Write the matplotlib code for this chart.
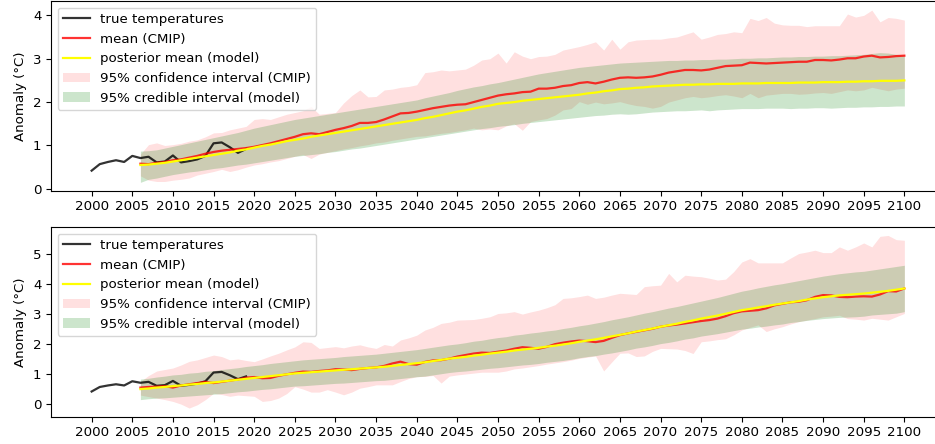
import numpy as np
import matplotlib
matplotlib.use("Agg")
import matplotlib.pyplot as plt

plt.rcParams.update({
    "font.family": "DejaVu Sans",
    "font.size": 9.6,
    "lines.linewidth": 1.6,
})

# Observed anomalies (°C)
obs_years = list(range(2000, 2020))
obs_temp = [0.42, 0.57, 0.62, 0.66, 0.62, 0.76, 0.71, 0.74, 0.61, 0.63,
            0.77, 0.61, 0.64, 0.68, 0.76, 1.05, 1.07, 0.96, 0.83, 0.92]

proj_years = list(range(2006, 2101))

# Scenario A
cmip_mean_a = [0.58, 0.57, 0.60, 0.62, 0.66, 0.68, 0.72, 0.76, 0.81, 0.85,
               0.88, 0.90, 0.92, 0.94, 0.97, 1.01, 1.05, 1.10, 1.15, 1.20,
               1.26, 1.28, 1.26, 1.31, 1.36, 1.40, 1.45, 1.52, 1.52, 1.54,
               1.60, 1.67, 1.74, 1.75, 1.78, 1.82, 1.86, 1.89, 1.92, 1.94,
               1.95, 2.00, 2.05, 2.10, 2.15, 2.18, 2.20, 2.23, 2.24, 2.31,
               2.31, 2.33, 2.37, 2.39, 2.44, 2.46, 2.43, 2.47, 2.52, 2.56,
               2.57, 2.56, 2.57, 2.59, 2.63, 2.68, 2.71, 2.74, 2.74, 2.73,
               2.75, 2.79, 2.83, 2.84, 2.85, 2.91, 2.90, 2.89, 2.90, 2.91,
               2.92, 2.93, 2.93, 2.97, 2.97, 2.96, 2.98, 3.01, 3.01, 3.05,
               3.07, 3.03, 3.04, 3.06, 3.07]
cmip_hi_a = [0.80, 1.02, 1.06, 1.00, 1.02, 1.05, 1.10, 1.13, 1.20, 1.29,
             1.30, 1.36, 1.40, 1.44, 1.60, 1.62, 1.60, 1.66, 1.72, 1.76,
             1.80, 1.90, 1.72, 1.74, 1.76, 1.98, 2.15, 2.28, 2.12, 2.13,
             2.28, 2.30, 2.34, 2.36, 2.40, 2.68, 2.70, 2.74, 2.72, 2.74,
             2.76, 2.85, 2.97, 3.00, 3.13, 2.90, 3.16, 3.06, 3.00, 3.05,
             3.06, 3.10, 3.20, 3.24, 3.28, 3.33, 3.39, 3.20, 3.45, 3.22,
             3.39, 3.43, 3.44, 3.45, 3.45, 3.48, 3.50, 3.56, 3.62, 3.45,
             3.50, 3.56, 3.58, 3.62, 3.60, 3.93, 3.88, 3.95, 3.82, 3.78,
             3.77, 3.77, 3.74, 3.76, 3.76, 3.76, 3.76, 4.03, 3.96, 4.00,
             4.12, 3.85, 3.95, 3.93, 3.89]
cmip_lo_a = [0.30, 0.20, 0.17, 0.17, 0.20, 0.22, 0.25, 0.32, 0.36, 0.40,
             0.45, 0.40, 0.44, 0.50, 0.55, 0.58, 0.62, 0.65, 0.70, 0.75,
             0.79, 0.70, 0.80, 0.84, 0.88, 0.92, 0.95, 0.99, 1.02, 1.06,
             1.08, 1.12, 1.15, 1.18, 1.21, 1.22, 1.25, 1.28, 1.30, 1.33,
             1.36, 1.40, 1.36, 1.38, 1.36, 1.45, 1.50, 1.35, 1.55, 1.59,
             1.62, 1.70, 1.82, 1.85, 2.01, 1.95, 2.00, 1.96, 1.98, 2.01,
             1.96, 1.92, 1.90, 1.86, 1.90, 2.00, 2.05, 2.10, 2.13, 2.10,
             2.12, 2.15, 2.17, 2.14, 2.10, 2.20, 2.10, 2.16, 2.18, 2.20,
             2.20, 2.18, 2.19, 2.21, 2.22, 2.20, 2.24, 2.28, 2.26, 2.28,
             2.34, 2.30, 2.26, 2.30, 2.32]
post_mean_a = [0.55, 0.56, 0.58, 0.60, 0.63, 0.66, 0.69, 0.72, 0.75, 0.78,
               0.81, 0.84, 0.88, 0.91, 0.95, 0.99, 1.02, 1.06, 1.10, 1.13,
               1.16, 1.20, 1.23, 1.26, 1.29, 1.32, 1.35, 1.38, 1.41, 1.44,
               1.47, 1.50, 1.53, 1.56, 1.59, 1.63, 1.66, 1.70, 1.74, 1.78,
               1.81, 1.85, 1.89, 1.92, 1.96, 1.98, 2.00, 2.03, 2.05, 2.07,
               2.09, 2.11, 2.13, 2.15, 2.17, 2.20, 2.22, 2.25, 2.27, 2.30,
               2.31, 2.33, 2.34, 2.36, 2.37, 2.38, 2.39, 2.40, 2.40, 2.41,
               2.41, 2.42, 2.42, 2.42, 2.43, 2.43, 2.43, 2.44, 2.44, 2.44,
               2.44, 2.45, 2.45, 2.45, 2.46, 2.46, 2.46, 2.47, 2.47, 2.48,
               2.48, 2.49, 2.49, 2.49, 2.50]
cred_hi_a = [0.87, 0.88, 0.90, 0.94, 0.98, 1.02, 1.06, 1.10, 1.14, 1.18,
             1.22, 1.26, 1.30, 1.35, 1.40, 1.44, 1.48, 1.52, 1.56, 1.60,
             1.63, 1.66, 1.69, 1.72, 1.75, 1.78, 1.81, 1.84, 1.87, 1.90,
             1.93, 1.96, 1.99, 2.02, 2.05, 2.10, 2.14, 2.18, 2.22, 2.27,
             2.31, 2.35, 2.38, 2.42, 2.45, 2.49, 2.53, 2.57, 2.61, 2.65,
             2.68, 2.71, 2.74, 2.77, 2.80, 2.82, 2.84, 2.86, 2.88, 2.90,
             2.91, 2.92, 2.93, 2.94, 2.95, 2.96, 2.96, 2.97, 2.97, 2.98,
             2.98, 2.99, 2.99, 3.00, 3.01, 3.01, 3.02, 3.02, 3.03, 3.04,
             3.04, 3.05, 3.05, 3.06, 3.06, 3.07, 3.07, 3.08, 3.09, 3.10,
             3.12, 3.14, 3.13, 3.10, 3.09]
cred_lo_a = [0.15, 0.22, 0.25, 0.29, 0.33, 0.36, 0.39, 0.41, 0.44, 0.47,
             0.49, 0.52, 0.55, 0.57, 0.60, 0.63, 0.66, 0.69, 0.72, 0.75,
             0.77, 0.79, 0.81, 0.84, 0.86, 0.89, 0.92, 0.94, 0.97, 1.00,
             1.03, 1.06, 1.09, 1.12, 1.15, 1.18, 1.21, 1.24, 1.27, 1.30,
             1.33, 1.36, 1.39, 1.41, 1.44, 1.46, 1.48, 1.51, 1.53, 1.55,
             1.57, 1.59, 1.61, 1.63, 1.65, 1.67, 1.69, 1.70, 1.72, 1.73,
             1.72, 1.73, 1.75, 1.77, 1.78, 1.79, 1.80, 1.80, 1.81, 1.82,
             1.80, 1.82, 1.83, 1.84, 1.85, 1.85, 1.85, 1.86, 1.86, 1.86,
             1.85, 1.86, 1.86, 1.87, 1.87, 1.86, 1.87, 1.88, 1.88, 1.89,
             1.89, 1.90, 1.90, 1.91, 1.91]

# Scenario B
cmip_mean_b = [0.55, 0.57, 0.58, 0.60, 0.55, 0.62, 0.66, 0.70, 0.74, 0.70,
               0.74, 0.78, 0.82, 0.88, 0.90, 0.86, 0.87, 0.94, 0.99, 1.04,
               1.08, 1.07, 1.10, 1.12, 1.16, 1.15, 1.13, 1.17, 1.20, 1.22,
               1.27, 1.35, 1.41, 1.33, 1.31, 1.40, 1.45, 1.46, 1.51, 1.58,
               1.63, 1.68, 1.71, 1.70, 1.74, 1.78, 1.84, 1.89, 1.87, 1.84,
               1.90, 1.99, 2.04, 2.08, 2.11, 2.09, 2.06, 2.10, 2.20, 2.29,
               2.35, 2.40, 2.45, 2.50, 2.57, 2.61, 2.64, 2.68, 2.72, 2.76,
               2.79, 2.84, 2.92, 3.02, 3.08, 3.10, 3.12, 3.18, 3.28, 3.33,
               3.38, 3.40, 3.45, 3.56, 3.62, 3.61, 3.56, 3.55, 3.57, 3.58,
               3.57, 3.64, 3.75, 3.74, 3.84]
cmip_hi_b = [0.75, 0.95, 1.10, 1.15, 1.20, 1.30, 1.42, 1.47, 1.55, 1.63,
             1.58, 1.47, 1.50, 1.45, 1.41, 1.50, 1.60, 1.69, 1.80, 1.90,
             2.07, 2.05, 1.85, 1.88, 1.91, 1.87, 1.93, 1.97, 1.90, 1.85,
             1.98, 1.93, 2.13, 2.20, 2.29, 2.46, 2.55, 2.68, 2.72, 2.79,
             2.80, 2.81, 2.85, 2.90, 3.01, 3.03, 3.07, 2.99, 3.06, 3.12,
             3.20, 3.30, 3.51, 3.53, 3.57, 3.62, 3.51, 3.55, 3.62, 3.68,
             3.66, 3.64, 3.90, 3.93, 3.95, 4.34, 4.06, 4.28, 4.25, 4.23,
             4.18, 4.12, 4.15, 4.40, 4.72, 4.83, 4.69, 4.69, 4.69, 4.69,
             4.85, 5.00, 5.05, 5.11, 5.03, 5.03, 5.22, 5.11, 5.22, 5.35,
             5.22, 5.57, 5.60, 5.46, 5.44]
cmip_lo_b = [0.30, 0.25, 0.20, 0.15, 0.09, 0.00, -0.13, -0.02, 0.15, 0.36,
             0.32, 0.26, 0.30, 0.28, 0.26, 0.09, 0.12, 0.20, 0.35, 0.58,
             0.50, 0.40, 0.40, 0.48, 0.40, 0.31, 0.40, 0.53, 0.58, 0.64,
             0.64, 0.64, 0.75, 0.85, 0.91, 0.92, 0.95, 0.70, 0.93, 0.97,
             1.00, 1.03, 1.06, 1.06, 1.06, 1.10, 1.17, 1.20, 1.24, 1.28,
             1.33, 1.37, 1.41, 1.46, 1.52, 1.56, 1.60, 1.10, 1.40, 1.69,
             1.70, 1.58, 1.60, 1.75, 1.85, 1.84, 1.83, 1.78, 1.68, 2.07,
             2.10, 2.14, 2.17, 2.30, 2.46, 2.55, 2.63, 2.41, 2.50, 2.57,
             2.66, 2.74, 2.79, 2.84, 2.90, 2.92, 2.95, 2.84, 2.82, 2.79,
             2.85, 2.82, 2.79, 2.90, 3.01]
post_mean_b = [0.50, 0.52, 0.55, 0.57, 0.60, 0.62, 0.65, 0.67, 0.70, 0.72,
               0.75, 0.78, 0.81, 0.84, 0.87, 0.90, 0.93, 0.96, 0.99, 1.02,
               1.04, 1.06, 1.08, 1.10, 1.12, 1.14, 1.16, 1.18, 1.20, 1.22,
               1.24, 1.27, 1.30, 1.33, 1.36, 1.39, 1.43, 1.47, 1.51, 1.54,
               1.57, 1.61, 1.64, 1.68, 1.71, 1.74, 1.78, 1.81, 1.84, 1.87,
               1.91, 1.94, 1.98, 2.02, 2.07, 2.11, 2.15, 2.20, 2.25, 2.30,
               2.35, 2.41, 2.46, 2.51, 2.57, 2.62, 2.67, 2.73, 2.78, 2.84,
               2.89, 2.94, 3.00, 3.06, 3.12, 3.16, 3.21, 3.25, 3.30, 3.34,
               3.38, 3.42, 3.47, 3.51, 3.55, 3.58, 3.61, 3.63, 3.65, 3.67,
               3.70, 3.73, 3.76, 3.80, 3.84]
cred_hi_b = [0.83, 0.86, 0.90, 0.93, 0.97, 0.99, 1.03, 1.05, 1.09, 1.11,
             1.15, 1.18, 1.21, 1.25, 1.28, 1.31, 1.35, 1.38, 1.41, 1.44,
             1.47, 1.49, 1.51, 1.53, 1.55, 1.58, 1.60, 1.62, 1.64, 1.66,
             1.69, 1.72, 1.75, 1.78, 1.81, 1.85, 1.89, 1.93, 1.97, 2.00,
             2.04, 2.09, 2.12, 2.17, 2.21, 2.24, 2.29, 2.32, 2.36, 2.39,
             2.43, 2.46, 2.51, 2.55, 2.60, 2.64, 2.69, 2.74, 2.80, 2.85,
             2.90, 2.96, 3.02, 3.07, 3.13, 3.19, 3.24, 3.30, 3.36, 3.42,
             3.48, 3.54, 3.61, 3.68, 3.75, 3.80, 3.86, 3.91, 3.96, 4.00,
             4.05, 4.10, 4.15, 4.20, 4.25, 4.29, 4.33, 4.36, 4.39, 4.41,
             4.45, 4.49, 4.53, 4.57, 4.61]
cred_lo_b = [0.15, 0.18, 0.20, 0.21, 0.23, 0.25, 0.27, 0.29, 0.31, 0.33,
             0.35, 0.38, 0.41, 0.43, 0.46, 0.49, 0.51, 0.54, 0.57, 0.60,
             0.61, 0.63, 0.65, 0.67, 0.69, 0.70, 0.72, 0.74, 0.76, 0.78,
             0.79, 0.82, 0.85, 0.88, 0.91, 0.93, 0.97, 1.01, 1.05, 1.08,
             1.10, 1.13, 1.16, 1.19, 1.21, 1.24, 1.27, 1.30, 1.32, 1.35,
             1.39, 1.42, 1.45, 1.49, 1.54, 1.58, 1.61, 1.66, 1.70, 1.75,
             1.80, 1.86, 1.90, 1.95, 2.01, 2.05, 2.10, 2.16, 2.20, 2.26,
             2.30, 2.34, 2.39, 2.44, 2.49, 2.52, 2.56, 2.59, 2.63, 2.66,
             2.71, 2.74, 2.78, 2.81, 2.84, 2.86, 2.88, 2.89, 2.90, 2.92,
             2.96, 2.98, 3.00, 3.02, 3.07]

panels = [
    (cmip_mean_a, cmip_lo_a, cmip_hi_a, post_mean_a, cred_lo_a, cred_hi_a, (-0.04, 4.33)),
    (cmip_mean_b, cmip_lo_b, cmip_hi_b, post_mean_b, cred_lo_b, cred_hi_b, (-0.41, 5.88)),
]

W, H = 935, 444
fig = plt.figure(figsize=(W / 100, H / 100), dpi=100)
left = 51 / W
width = (945 - 51) / W
axes = [
    fig.add_axes([left, (H - 190.6) / H, width, 189.6 / H]),
    fig.add_axes([left, (H - 416.5) / H, width, 189.5 / H]),
]

for ax, (mu, lo, hi, pm, clo, chi, ylim) in zip(axes, panels):
    ax.plot(obs_years, obs_temp, color="black", alpha=0.8, label="true temperatures")
    ax.plot(proj_years, mu, color="red", alpha=0.8, label="mean (CMIP)")
    ax.plot(proj_years, pm, color="yellow", label="posterior mean (model)")
    ax.fill_between(proj_years, lo, hi, color="red", alpha=0.12, linewidth=0,
                    label="95% confidence interval (CMIP)")
    ax.fill_between(proj_years, clo, chi, color="green", alpha=0.2, linewidth=0,
                    label="95% credible interval (model)")
    ax.set_xlim(1995, 2105)
    ax.set_ylim(*ylim)
    ax.set_xticks(range(2000, 2101, 5))
    ax.set_ylabel("Anomaly (°C)")
    ax.legend(loc="upper left")

fig.savefig("out.png", dpi=100, facecolor="white")
